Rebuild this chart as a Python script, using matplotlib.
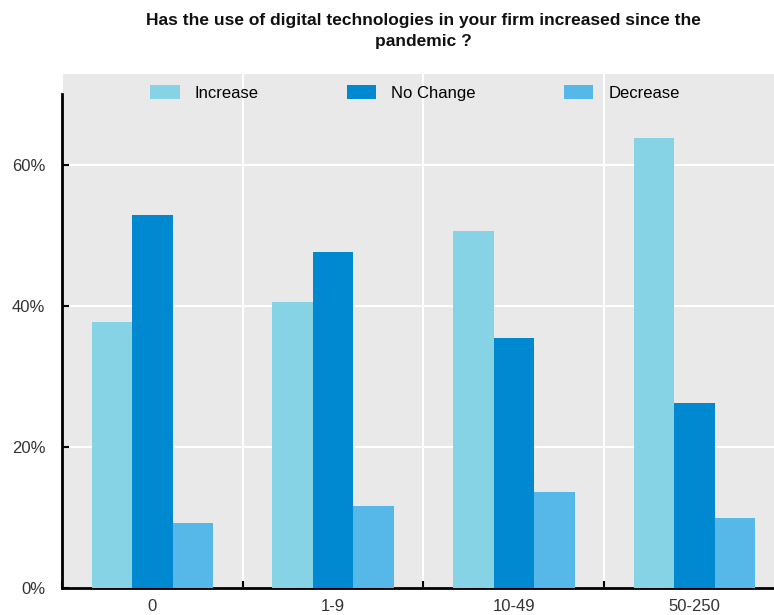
import numpy as np
import matplotlib
matplotlib.use("Agg")
import matplotlib.pyplot as plt
from matplotlib.ticker import FixedLocator, FuncFormatter

plt.rcParams['font.family'] = ['Liberation Sans', 'DejaVu Sans']

categories = ["0", "1-9", "10-49", "50-250"]
increase = [37.7, 40.6, 50.6, 63.8]
no_change = [52.9, 47.7, 35.5, 26.2]
decrease = [9.2, 11.6, 13.6, 9.9]

series = [("Increase", increase, "#86d3e6"),
          ("No Change", no_change, "#0089d0"),
          ("Decrease", decrease, "#55b8e8")]

fig = plt.figure(figsize=(7.74, 6.15), dpi=100)
# axes runs a little past the right edge of the figure
ax = fig.add_axes([62 / 774, 27 / 615, 723 / 774, 514 / 615])
ax.set_facecolor("#e9e9e9")

x = np.arange(len(categories))
w = 0.224
for i, (name, vals, col) in enumerate(series):
    ax.bar(x + (i - 1) * w, vals, width=w, color=col, label=name, zorder=3)

ax.set_xlim(-0.5, len(categories) - 0.5)
ax.set_ylim(0, 72.9)

ax.yaxis.set_major_locator(FixedLocator([0, 20, 40, 60]))
ax.yaxis.set_major_formatter(FuncFormatter(lambda v, p: "%d%%" % v))
ax.set_xticks(x)
ax.set_xticklabels(categories)
ax.set_xticks(np.arange(len(categories) + 1) - 0.5, minor=True)

ax.tick_params(axis="x", which="major", length=0, pad=8, labelsize=12, labelcolor="#333333")
ax.tick_params(axis="x", which="minor", direction="in", length=5, width=1.5, color="black")
ax.tick_params(axis="y", direction="in", length=5, width=1.5, pad=12, labelsize=12, labelcolor="#333333")

ax.grid(axis="y", color="white", linewidth=1.5, zorder=1)
ax.grid(axis="x", which="minor", color="white", linewidth=1.5, zorder=1)
ax.set_axisbelow(True)

for s in ["top", "right"]:
    ax.spines[s].set_visible(False)
ax.spines["left"].set_bounds(0, 70)
ax.spines["left"].set_linewidth(2)
ax.spines["bottom"].set_linewidth(2)

ax.legend(loc="center", bbox_to_anchor=(415 / 774, 1 - 93 / 615), bbox_transform=fig.transFigure,
          ncol=3, frameon=False, fontsize=12, handlelength=1.75, handleheight=0.9,
          handletextpad=0.9, columnspacing=5.3)

fig.text(423 / 774, 1 - 31 / 615,
         "Has the use of digital technologies in your firm increased since the\npandemic ?",
         ha="center", va="center", fontsize=12.5, fontweight="bold", linespacing=1.55,
         family=['Liberation Sans Narrow', 'Liberation Sans'], color="#111111")

fig.savefig("out.png", dpi=100)
